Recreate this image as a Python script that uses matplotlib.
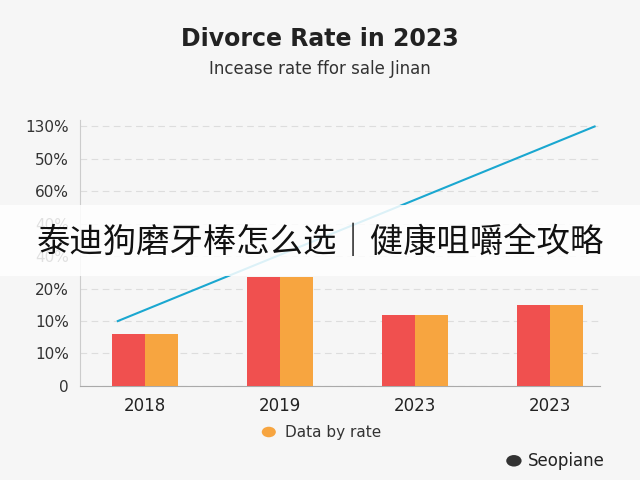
import matplotlib
matplotlib.use("Agg")
import matplotlib.pyplot as plt
from matplotlib.patches import Rectangle, Circle

categories = ["2018", "2019", "2023", "2023"]
red_vals = [1.6, 3.35, 2.2, 2.5]
orange_vals = [1.6, 3.35, 2.2, 2.5]
line_x = [-0.2, 3.33]
line_y = [2.0, 8.0]
ytick_labels = ["0", "10%", "10%", "20%", "40%", "40%", "60%", "50%", "130%"]

plt.rcParams['font.family'] = ['DejaVu Sans', 'Noto Sans CJK SC']
bg = "#f6f6f6"
fig = plt.figure(figsize=(6.4, 4.8), dpi=100, facecolor=bg)
ax = fig.add_axes([0.125, 0.196, 0.8125, 0.554], facecolor=bg)
x = list(range(len(categories)))
w = 0.245
ax.bar([i - w/2 for i in x], red_vals, w, color="#f0504f", zorder=3)
ax.bar([i + w/2 for i in x], orange_vals, w, color="#f7a540", zorder=3)
ax.plot(line_x, line_y, color="#1aa7d0", lw=1.5, zorder=4)
ax.set_xlim(-0.48, 3.37)
ax.set_ylim(0, 8.2)
ax.set_yticks(range(len(ytick_labels)))
ax.set_yticklabels(ytick_labels, fontsize=11, color="#333333")
ax.set_xticks(x)
ax.set_xticklabels(categories, fontsize=12, color="#222222")
ax.grid(axis="y", color="#dddddd", lw=0.8, ls=(0, (6, 4)), zorder=0)
for s in ["top", "right"]:
    ax.spines[s].set_visible(False)
ax.spines["bottom"].set_color("#aaaaaa")
ax.spines["left"].set_color("#cccccc")
ax.tick_params(length=0, pad=8)

fig.text(0.5, 0.905, "Divorce Rate in 2023", ha="center", fontsize=17, fontweight="bold", color="#222222")
fig.text(0.5, 0.845, "Incease rate ffor sale Jinan", ha="center", fontsize=12, color="#333333")

fig.patches.append(Rectangle((0, 0.425), 1, 0.148, transform=fig.transFigure,
                             facecolor="white", alpha=0.85, zorder=10))
fig.text(0.5, 0.495, "泰迪狗磨牙棒怎么选｜健康咀嚼全攻略", ha="center", va="center",
         fontsize=24, color="#111111", family=['Noto Sans CJK SC', 'DejaVu Sans'], zorder=11)

fig.patches.append(Circle((0.42, 0.1), 0.011, transform=fig.transFigure,
                          facecolor="#f7a540", zorder=5))
fig.text(0.445, 0.1, "Data by rate", va="center", fontsize=11, color="#333333")
fig.text(0.825, 0.04, "Seopiane", va="center", fontsize=12, color="#222222")
fig.patches.append(Circle((0.803, 0.04), 0.012, transform=fig.transFigure,
                          facecolor="#333333", zorder=5))
fig.savefig("out.png", dpi=100, facecolor=bg)
